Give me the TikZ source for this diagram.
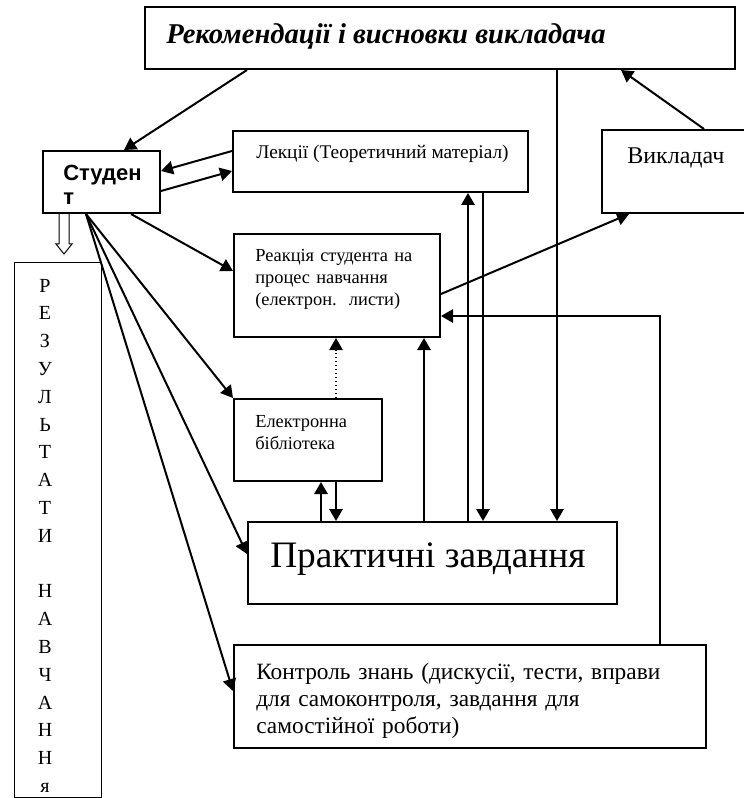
\documentclass[tikz,border=0pt]{standalone}
\usepackage{fontspec}
\setmainfont{Liberation Serif}
\setsansfont{Liberation Sans}
\usetikzlibrary{arrows.meta,calc,fit}

\begin{document}
\begin{tikzpicture}[x=0.75pt,y=-0.75pt,
  box/.style={draw,line width=1.5pt,inner sep=0pt},
  txt/.style={inner sep=0pt,anchor=base west},
  mtxt/.style={txt,align=left,text width=#1},
  arr/.style={line width=1.5pt,-{Triangle[length=9pt,width=10pt]}},
  small/.style={font=\fontsize{13.8}{16.5}\selectfont}]
  \useasboundingbox (0,0) rectangle (743,798);

  % boxes
  \node[box,fit={(145,7) (735,69)}] (rec) {};
  \node[box,fit={(43,151) (160,213)}] (stud) {};
  \node[box,fit={(233,131) (528,192)}] (lect) {};
  \node[box,fit={(602,130) (760,213)}] (vikl) {};
  \node[box,fit={(234,234) (440,337)}] (react) {};
  \node[box,fit={(234,399) (382,481)}] (elib) {};
  \node[box,fit={(248,522) (617,604)}] (prac) {};
  \node[box,fit={(234,645) (706,748)}] (ctrl) {};
  \node[draw,line width=0.75pt,inner sep=0pt,fit={(14,263) (101,797)}] (res) {};

  % texts
  \node[txt,font=\fontsize{21.5}{24}\selectfont\bfseries\itshape] (rectxt) at (166,44)
    {Рекомендації і висновки викладача};
  \node[mtxt=100pt,font=\fontsize{16.5}{18}\selectfont\sffamily\bfseries] (studtxt) at (63,181)
    {Студен\\т};
  \node[txt,font=\fontsize{14.5}{17}\selectfont] (lecttxt) at (256,159) {Лекції (Теоретичний матеріал)};
  \node[txt,font=\fontsize{18}{20}\selectfont] (vikltxt) at (627,164) {Викладач};
  \node[mtxt=150pt,small] (reacttxt) at (255,262)
    {Реакція студента на\\процес навчання\\(електрон.\ \ листи)};
  \node[mtxt=100pt,small] (elibtxt) at (255,427) {Електронна\\бібліотека};
  \node[txt,font=\fontsize{28}{30}\selectfont] (practxt) at (270,567) {Практичні завдання};
  \node[mtxt=340pt,font=\fontsize{17.5}{20.6}\selectfont] (ctrltxt) at (256,679)
    {Контроль знань (дискусії, тести, вправи\\для самоконтроля, завдання для\\самостійної роботи)};
  \foreach \l/\i in {Р/0,Е/1,З/2,У/3,Л/4,Ь/5,Т/6,А/7,Т/8,И/9,Н/11,А/12,В/13,Ч/14,А/15,Н/16,Н/17,я/18}
    \node[inner sep=0pt,anchor=base,font=\fontsize{15}{17}\selectfont] (res\i) at (45,292+27.8*\i) {\l};

  % connectors
  \draw[arr] ($(rec.south west)+(103,0)$) -- ($(stud.north west)+(82,0)$);
  \draw[arr] ($(lect.north west)+(0,21)$) -- ($(stud.north east)+(0,21)$);
  \draw[arr] ($(stud.north east)+(0,41)$) -- ($(lect.north west)+(0,41)$);
  \draw[arr] ($(stud.south west)+(89,0)$) -- ($(react.north west)+(0,38)$);
  \draw[arr] ($(stud.south west)+(44,0)$) -- (elib.north west);
  \draw[arr] ($(stud.south west)+(44,0)$) -- ($(prac.north west)+(0,33)$);
  \draw[arr] ($(stud.south west)+(44,0)$) -- ($(ctrl.north west)+(0,47)$);
  \draw[arr] ($(rec.south west)+(413,0)$) -- ($(prac.north west)+(310,0)$);
  \draw[arr] ($(vikl.north west)+(103,0)$) -- ($(rec.south west)+(477,0)$);
  \draw[arr] ($(react.north east)+(0,61)$) -- ($(vikl.south west)+(28,0)$);
  \draw[arr] ($(ctrl.north west)+(427,0)$) |- ($(react.north east)+(0,83)$);
  \draw[arr] ($(prac.north west)+(177,0)$) -- ($(react.south west)+(191,0)$);
  \draw[arr] ($(prac.north west)+(221,0)$) -- ($(lect.south west)+(236,0)$);
  \draw[arr] ($(lect.south west)+(251,0)$) -- ($(prac.north west)+(236,0)$);
  \draw[arr,line width=1pt,dotted] ($(elib.north west)+(103,0)$) -- ($(react.south west)+(103,0)$);
  \draw[arr] ($(prac.north west)+(74,0)$) -- ($(elib.south west)+(88,0)$);
  \draw[arr] ($(elib.south west)+(103,0)$) -- ($(prac.north west)+(89,0)$);
  % hollow arrow to results
  \draw[line width=0.75pt] ($(stud.south west)+(17,0)$) -- ++(0,30) -- ++(-3,0) -- ++(8,10)
    -- ++(8,-10) -- ++(-3,0) -- ++(0,-30);
\end{tikzpicture}
\end{document}
